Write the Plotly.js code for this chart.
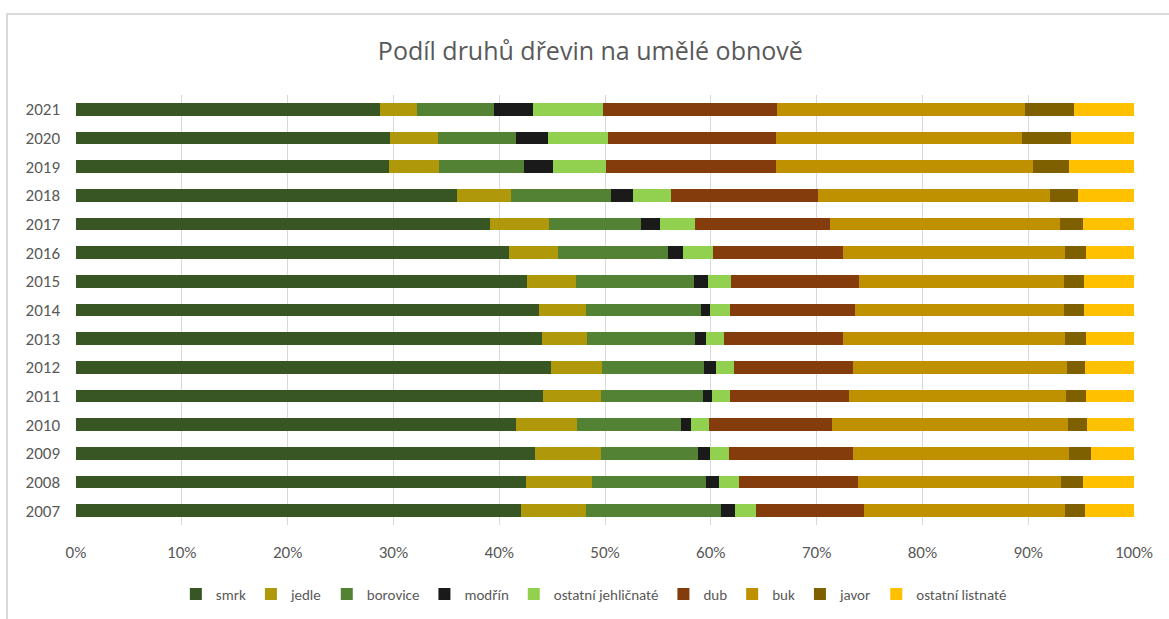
<!DOCTYPE html>
<html>
<head>
<meta charset="utf-8">
<script src="https://cdn.plot.ly/plotly-3.0.1.min.js"></script>
<style>
  html, body { margin: 0; padding: 0; background: #fff; }
  #wrap { position: relative; width: 1169px; height: 619px; overflow: hidden; }
  #frame { position: absolute; left: 6px; top: 13px; width: 1400px; height: 900px;
           border-left: 2px solid #d9d9d9; border-top: 2px solid #d9d9d9; pointer-events: none; }
  #chart { position: absolute; left: 0; top: 0; width: 1169px; height: 619px; }
</style>
</head>
<body>
<div id="wrap">
  <div id="chart"></div>
  <div id="frame"></div>
</div>
<script>
const years = ["2007","2008","2009","2010","2011","2012","2013","2014","2015","2016","2017","2018","2019","2020","2021"];

// shares in % per year (2007 ... 2021)
const smrk      = [42.1, 42.5, 43.4, 41.6, 44.1, 44.9, 44.0, 43.8, 42.6, 40.9, 39.1, 36.0, 29.6, 29.7, 28.7];
const jedle     = [ 6.1,  6.3,  6.2,  5.8,  5.5,  4.8,  4.3,  4.4,  4.7,  4.7,  5.6,  5.1,  4.7,  4.5,  3.5];
const borovice  = [12.8, 10.7,  9.2,  9.8,  9.7,  9.7, 10.2, 10.9, 11.1, 10.4,  8.7,  9.5,  8.0,  7.4,  7.3];
const modrin    = [ 1.3,  1.3,  1.1,  0.9,  0.8,  1.1,  1.0,  0.8,  1.3,  1.4,  1.8,  2.0,  2.8,  3.0,  3.7];
const ostJehl   = [ 2.0,  1.9,  1.8,  1.7,  1.7,  1.7,  1.7,  1.9,  2.2,  2.8,  3.3,  3.6,  5.0,  5.7,  6.6];
const dub       = [10.2, 11.2, 11.7, 11.7, 11.3, 11.2, 11.3, 11.8, 12.1, 12.3, 12.8, 13.9, 16.1, 15.9, 16.5];
const buk       = [19.0, 19.2, 20.5, 22.3, 20.5, 20.3, 21.0, 19.8, 19.4, 21.0, 21.7, 22.0, 24.3, 23.2, 23.4];
const javor     = [ 1.9,  2.1,  2.0,  1.8,  1.9,  1.7,  2.0,  1.9,  1.9,  2.0,  2.2,  2.6,  3.4,  4.6,  4.6];
const ostList   = [ 4.6,  4.8,  4.1,  4.4,  4.5,  4.6,  4.5,  4.7,  4.7,  4.5,  4.8,  5.3,  6.1,  6.0,  5.7];

const seriesNames = ["smrk","jedle","borovice","modřín","ostatní jehličnaté","dub","buk","javor","ostatní listnaté"];
const seriesValues = [smrk, jedle, borovice, modrin, ostJehl, dub, buk, javor, ostList];
const seriesColors = ["#375623","#AF990B","#548235","#1A1A1A","#92D050","#843C0C","#BF9000","#7F6000","#FFC000"];

const tickFont = "'Liberation Sans Narrow', Carlito, Calibri, 'Noto Sans', sans-serif";

const traces = seriesNames.map((name, i) => ({
  type: "bar",
  orientation: "h",
  name: name,
  y: years,
  x: seriesValues[i],
  marker: { color: seriesColors[i], line: { width: 0 } },
  hoverinfo: "name+x"
}));

const layout = {
  width: 1169,
  height: 619,
  barmode: "stack",
  barnorm: "percent",
  bargap: 0.55,
  paper_bgcolor: "rgba(0,0,0,0)",
  plot_bgcolor: "rgba(0,0,0,0)",
  margin: { l: 76, r: 35, t: 95, b: 94 },
  title: {
    text: "Podíl druhů dřevin na umělé obnově",
    x: 0.505, xanchor: "center",
    y: 0.918, yanchor: "middle",
    font: { family: "'Open Sans', 'Noto Sans', sans-serif", size: 25, color: "#595959" }
  },
  xaxis: {
    range: [0, 100],
    dtick: 10,
    ticksuffix: "%",
    showgrid: true,
    gridcolor: "#d9d9d9",
    gridwidth: 1,
    zeroline: false,
    showline: false,
    ticks: "",
    ticklen: 0,
    ticklabelstandoff: 15,
    automargin: false,
    tickfont: { family: tickFont, size: 17, color: "#595959" },
    fixedrange: true
  },
  yaxis: {
    type: "category",
    showgrid: false,
    zeroline: false,
    showline: false,
    ticks: "",
    ticklabelstandoff: 15,
    automargin: false,
    tickfont: { family: tickFont, size: 17, color: "#595959" },
    fixedrange: true
  },
  showlegend: true,
  legend: {
    orientation: "h",
    xref: "container", yref: "container",
    x: 0.508, xanchor: "center",
    y: 0.04, yanchor: "middle",
    traceorder: "normal",
    font: { family: tickFont, size: 15, color: "#595959" },
    itemwidth: 30,
    itemclick: false
  }
};

Plotly.newPlot("chart", traces, layout, { displayModeBar: false, staticPlot: true });
</script>
</body>
</html>
